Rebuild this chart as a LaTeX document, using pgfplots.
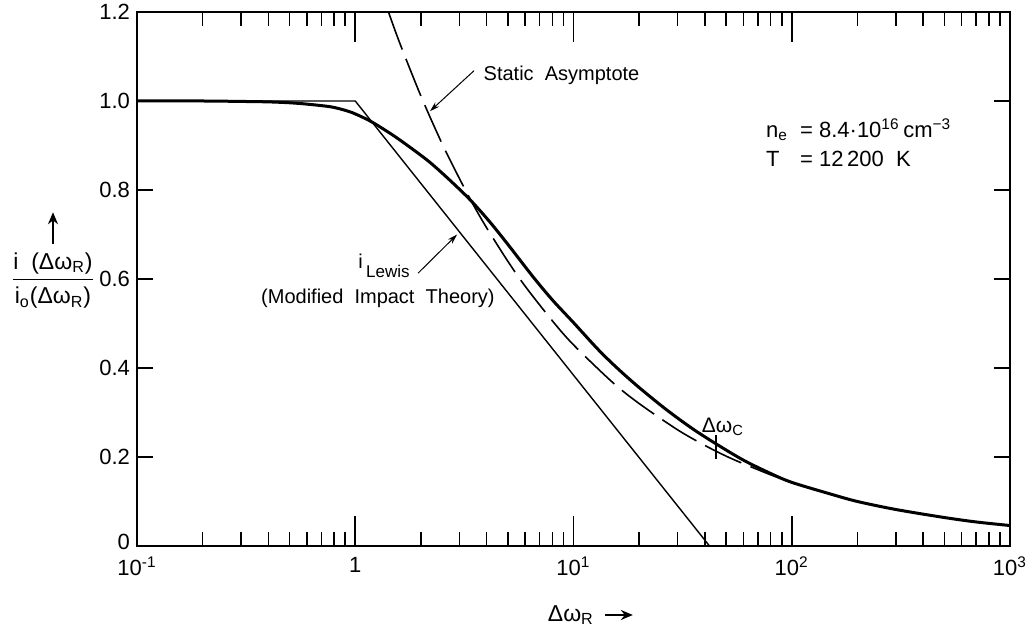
\documentclass[border=0pt]{standalone}
\usepackage{pgfplots}
\pgfplotsset{compat=1.18}
\usepackage{fontspec}
\setmainfont{Liberation Sans}
\usetikzlibrary{arrows.meta}
\begin{document}
\begin{tikzpicture}
\useasboundingbox (-68.5pt,-42pt) rectangle (445.5pt,273pt);
\begin{axis}[
  at={(0,0)}, anchor=south west,
  scale only axis, width=436.5pt, height=267pt,
  xmode=log, log basis x=10,
  xmin=0.1, xmax=1000, ymin=0, ymax=1.2,
  xtick={0.1,1,10,100,1000},
  xticklabels={10\textsuperscript{-1},1,10\textsuperscript{1},10\textsuperscript{2},10\textsuperscript{3}},
  minor xtick={0.2,0.3,0.4,0.5,0.6,0.7,0.8,0.9,2,3,4,5,6,7,8,9,20,30,40,50,60,70,80,90,200,300,400,500,600,700,800,900},
  ytick={0,0.2,0.4,0.6,0.8,1.0,1.2},
  yticklabels={\raisebox{4pt}{0},0.2,0.4,0.6,0.8,1.0,1.2},
  tick align=inside,
  xtick style={/pgfplots/major tick length=15pt,/pgfplots/minor tick length=7pt, line width=0.8pt, black},
  ytick style={/pgfplots/major tick length=8pt, line width=0.8pt, black},
  axis line style={line width=1pt},
  tick label style={font=\fontsize{11}{13}\selectfont},
  xticklabel style={yshift=-2pt},
  clip=false,
]
% i_Lewis (modified impact theory) straight line
\addplot[line width=0.7pt] coordinates {(0.1,1.0) (1,1.0) (42,0)};
% main curve
\addplot[line width=1.5pt, smooth] coordinates {
(0.1,1.000) (0.2,1.000) (0.3,0.999) (0.4,0.998) (0.5,0.996) (0.6,0.993)
(0.77,0.987) (0.9,0.979) (1.0,0.971) (1.19,0.953) (1.5,0.922) (1.84,0.891)
(2.2,0.862) (2.7,0.823) (3.36,0.778) (4.14,0.728) (5,0.678) (6.5,0.606)
(8,0.553) (10,0.502) (13,0.441) (16,0.398) (20,0.356) (26.7,0.306)
(35,0.264) (44.5,0.231) (60,0.193) (80,0.163) (100,0.143) (150,0.117)
(200,0.100) (300,0.082) (500,0.064) (700,0.054) (1000,0.046)};
% static asymptote
\addplot[line width=0.8pt, dash pattern=on 20pt off 5pt, smooth] coordinates {
(1.42,1.2) (1.6,1.130) (2,1.011) (2.5,0.904) (3,0.826) (3.5,0.764) (4,0.715)
(5,0.640) (6,0.584) (8,0.506) (10,0.452) (15,0.369) (20,0.320) (30,0.261)
(40,0.226) (50,0.202) (60,0.185) (80,0.160) (100,0.143)};
% Delta omega_c marker
\addplot[line width=0.8pt] coordinates {(45,0.196) (45,0.250)};
\node[anchor=center, font=\fontsize{10.5}{12}\selectfont] at (axis cs:48.4,0.267) {Δω\textsubscript{C}};
% annotations
\node[anchor=west, font=\fontsize{10}{12}\selectfont] at (axis cs:3.6,1.058) {Static\ \ Asymptote};
\draw[-{Stealth[length=5pt,width=3pt]}, line width=0.5pt] (axis cs:3.5,1.068) -- (axis cs:2.2,0.977);
\node[anchor=west, font=\fontsize{10}{12}\selectfont] at (axis cs:0.96,0.63) {i\,\raisebox{-0.9ex}{\fontsize{8.5}{10}\selectfont Lewis}};
\node[anchor=center, font=\fontsize{10}{12}\selectfont] at (axis cs:1.27,0.557) {(Modified\ \ Impact\ \ Theory)};
\draw[-{Stealth[length=5pt,width=3pt]}, line width=0.5pt] (axis cs:1.94,0.613) -- (axis cs:2.93,0.70);
\node[anchor=north west, font=\fontsize{11}{13.5}\selectfont, inner sep=0pt] at (axis cs:76,0.962) {%
\begin{tabular}{@{}l@{\ \ }l@{}}
n\textsubscript{e} & = 8.4·10\textsuperscript{16}\,cm\textsuperscript{−3}\\[1pt]
T & = 12\,200\ \ K
\end{tabular}};
% y label
\node[xshift=-42pt, font=\fontsize{11.5}{13}\selectfont, inner sep=0pt] at (rel axis cs:0,0.496) {%
\begin{tabular}{@{}c@{}}i\ \ (Δω\textsubscript{R})\\[1pt]\hline\rule{0pt}{12pt}i\textsubscript{o}(Δω\textsubscript{R})\end{tabular}};
\draw[-{Stealth[length=6pt,width=5pt]}, line width=1pt] ([xshift=-42pt]rel axis cs:0,0.565) -- ([xshift=-42pt]rel axis cs:0,0.625);
% x label
\node[yshift=-34.5pt, font=\fontsize{11.5}{13}\selectfont] at (rel axis cs:0.497,0) {Δω\textsubscript{R}};
\draw[-{Stealth[length=6pt,width=5pt]}, line width=1pt] ([yshift=-34.5pt]rel axis cs:0.536,0) -- ([yshift=-34.5pt]rel axis cs:0.568,0);
\end{axis}
\end{tikzpicture}
\end{document}
